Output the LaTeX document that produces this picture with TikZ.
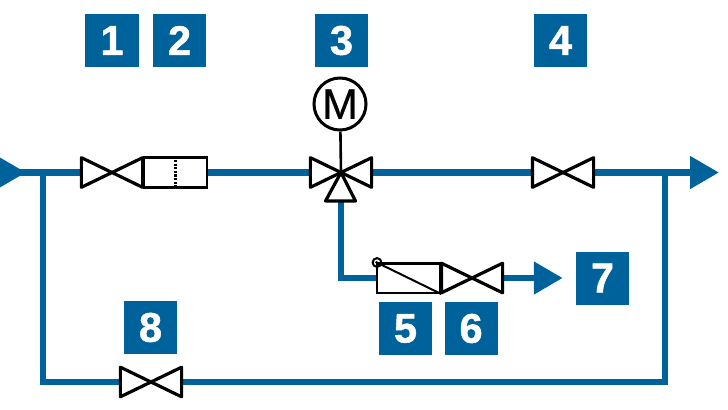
\documentclass[tikz,border=0pt]{standalone}
\usepackage{fontspec}
\setmainfont{Liberation Sans}
\newfontfamily\tagfont[FakeBold=1.2]{Liberation Sans Bold}
\newfontfamily\motorfont[FakeBold=0.5]{Liberation Sans}
\usepackage{xcolor}
\usetikzlibrary{arrows.meta,backgrounds,positioning}
\definecolor{pipeblue}{HTML}{00629A}

\begin{document}
\begin{tikzpicture}[x=0.025cm, y=-0.025cm, node distance=0.35cm]
    % Styles
    \tikzstyle{tag} = [rectangle, fill=pipeblue, text=white, font=\fontsize{29.5}{31}\tagfont, minimum size=1.325cm, inner sep=0pt]
    \tikzstyle{pipe} = [draw=pipeblue, line width=0.165cm]
    \tikzstyle{flow} = [pipe, -{Triangle[length=0.72cm, width=0.78cm]}]
    \tikzstyle{outline} = [draw=black, line width=0.065cm]
    \tikzstyle{housing} = [rectangle, outline, fill=white, minimum width=1.58cm, minimum height=0.74cm, inner sep=0pt]
    \tikzstyle{valve} = [rectangle, minimum width=1.53cm, minimum height=0.74cm, inner sep=0pt, outer sep=0pt,
        append after command={\pgfextra{\draw[draw=black, line width=0.08cm, fill=white, line join=round]
            (\tikzlastnode.north west) -- (\tikzlastnode.south east) -- (\tikzlastnode.north east) -- (\tikzlastnode.south west) -- cycle;}}]

    \useasboundingbox (0,0) rectangle (728,409);

    % Tags
    \node [tag] at (112,40.5) (tag1) {1};
    \node [tag, right=of tag1] (tag2) {2};
    \node [tag] at (341.5,40.5) (tag3) {3};
    \node [tag] at (560.5,40.5) (tag4) {4};
    \node [tag] at (405.5,328.5) (tag5) {5};
    \node [tag, right=0.3cm of tag5] (tag6) {6};
    \node [tag] at (602.5,278) (tag7) {7};
    \node [tag] at (150.5,327.5) (tag8) {8};

    % Valves and housings
    \node [valve] at (112,172.5) (valve1) {};
    \node [housing, right=0pt of valve1] (filter2) {};
    \node [valve] at (341,172.5) (valve3) {};
    \node [valve] at (563,172.5) (valve4) {};
    \node [valve] at (472,278) (valve6) {};
    \node [housing, left=0pt of valve6] (sensor5) {};
    \node [valve] at (151,382) (valve8) {};

    % Junctions and pipe ends
    \coordinate (inlet) at (-3,172.5);
    \coordinate (intip) at (26,172.5);
    \coordinate (outlet) at (719,172.5);
    \coordinate (tee1) at (43,172.5);
    \coordinate (tee2) at (665,172.5);

    % Pipes go behind the valves
    \begin{scope}[on background layer]
        \draw[flow] (inlet) -- (intip);
        \draw[pipe] (inlet) -- (valve1);
        \draw[pipe] (filter2) -- (valve3);
        \draw[pipe] (valve3) -- (valve4);
        \draw[flow] (valve4) -- (outlet);
        \draw[pipe] (valve3) |- (valve6);
        \draw[flow, shorten >=0.325cm] (valve6) -- (tag7);
        \draw[pipe] (tee1) |- (valve8);
        \draw[pipe] (valve8) -| (tee2);
    \end{scope}

    % Three-way port
    \coordinate (port3a) at (325.5,201);
    \coordinate (port3b) at (355.5,201);
    \draw[outline, line width=0.08cm, fill=white, line join=round] (valve3.center) -- (port3a) -- (port3b) -- cycle;

    % Motor
    \node [circle, outline, line width=0.075cm, fill=white, minimum size=1.3cm, inner sep=0pt, font=\fontsize{30.5}{32}\motorfont] at (340,104) (motor) {M};
    \draw[outline] (motor) -- (valve3.center);

    % Filter and sensor details
    \draw[black, line width=0.055cm, densely dotted] (filter2.north) -- (filter2.south);
    \draw[outline, line width=0.05cm] (sensor5.north west) -- (sensor5.south east);
    \node [circle, outline, line width=0.05cm, minimum size=0.22cm, inner sep=0pt] at (377,262.5) (trip5) {};
\end{tikzpicture}
\end{document}
